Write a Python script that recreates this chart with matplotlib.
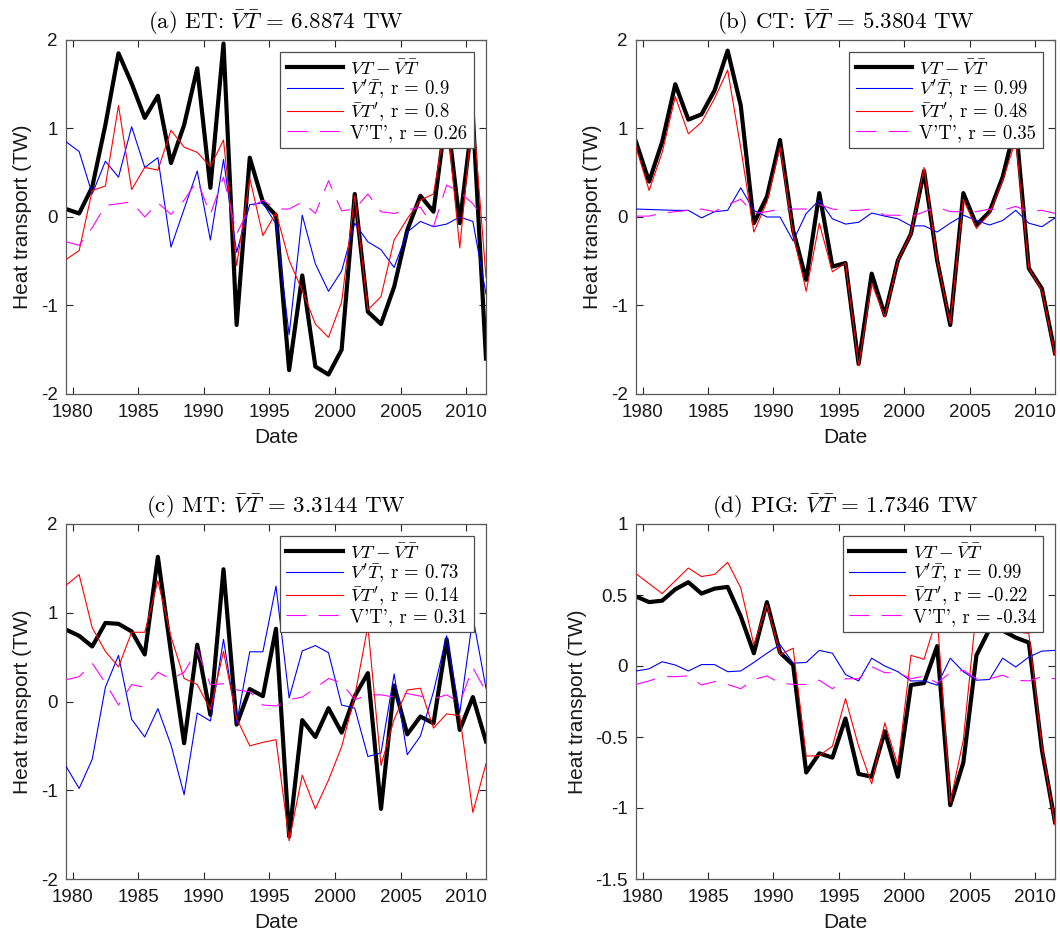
import matplotlib
matplotlib.use("Agg")
import matplotlib.pyplot as plt
from matplotlib.font_manager import FontProperties
import numpy as np

plt.rcParams["mathtext.fontset"] = "cm"
plt.rcParams["axes.unicode_minus"] = False
plt.rcParams["font.family"] = ["Liberation Sans", "DejaVu Sans"]

# Annual values, centred on mid-year (1979.5 ... 2011.5)
years = np.arange(1979.5, 2012.0, 1.0)

# (a) ET
et_total = [0.09, 0.04, 0.34, 1.04, 1.85, 1.51, 1.12, 1.37, 0.61, 1.04, 1.68, 0.33, 1.96,
            -1.22, 0.67, 0.17, 0.02, -1.73, -0.66, -1.69, -1.78, -1.50, 0.26, -1.07, -1.21,
            -0.79, -0.15, 0.24, 0.06, 1.20, -0.07, 1.15, -1.60]
et_vpt = [0.85, 0.74, 0.26, 0.63, 0.45, 1.02, 0.56, 0.67, -0.34, 0.09, 0.52, -0.26, 0.65,
          -0.40, 0.14, 0.16, -0.08, -1.33, 0.02, -0.53, -0.84, -0.61, -0.07, -0.28, -0.37,
          -0.57, -0.17, -0.05, -0.11, -0.08, 0.00, -0.05, -0.87]
et_vtp = [-0.48, -0.38, 0.30, 0.35, 1.26, 0.31, 0.56, 0.53, 0.98, 0.79, 0.73, 0.57, 0.87,
          -0.55, 0.44, -0.21, 0.05, -0.49, -0.83, -1.21, -1.36, -0.96, 0.24, -1.05, -0.90,
          -0.26, -0.02, 0.19, 0.26, 1.15, -0.35, 1.20, -0.68]
et_vptp = [-0.28, -0.32, -0.12, 0.13, 0.15, 0.17, 0.00, 0.16, 0.03, 0.19, 0.41, 0.03, 0.45,
           -0.19, 0.11, 0.19, 0.09, 0.09, 0.17, 0.04, 0.41, 0.07, 0.09, 0.26, 0.06,
           0.04, 0.08, 0.11, -0.11, 0.36, 0.28, 0.15, -0.04]

# (b) CT
ct_total = [0.85, 0.40, 0.85, 1.50, 1.10, 1.16, 1.43, 1.88, 1.26, -0.07, 0.23, 0.87, -0.15,
            -0.71, 0.27, -0.56, -0.52, -1.66, -0.64, -1.11, -0.49, -0.19, 0.52, -0.49, -1.22,
            0.27, -0.09, 0.06, 0.45, 1.05, -0.58, -0.81, -1.54]
ct_vpt = [0.09, 0.085, 0.08, 0.075, 0.075, -0.01, 0.06, 0.075, 0.33, 0.075, 0.00, 0.00, -0.27,
          0.04, 0.19, -0.02, -0.08, -0.06, 0.045, 0.01, -0.02, -0.10, -0.10, -0.17, -0.07,
          0.02, -0.04, -0.09, -0.04, 0.075, -0.07, -0.11, -0.01]
ct_vtp = [0.79, 0.30, 0.73, 1.36, 0.94, 1.07, 1.34, 1.66, 0.78, -0.17, 0.17, 0.79, -0.19,
          -0.84, -0.07, -0.62, -0.52, -1.68, -0.75, -1.13, -0.49, -0.19, 0.56, -0.49, -1.20,
          0.20, -0.13, 0.04, 0.41, 0.87, -0.58, -0.83, -1.56]
ct_vptp = [0.01, 0.01, 0.045, 0.06, 0.075, 0.09, 0.06, 0.14, 0.20, 0.04, 0.06, 0.09, 0.09,
           0.09, 0.14, 0.09, 0.075, 0.075, 0.09, 0.02, 0.02, 0.00, 0.06, 0.11, 0.06,
           0.06, 0.06, 0.09, 0.075, 0.12, 0.06, 0.075, 0.04]

# (c) MT
mt_total = [0.81, 0.74, 0.62, 0.885, 0.875, 0.79, 0.53, 1.63, 0.55, -0.47, 0.64, -0.15, 1.49,
            -0.26, 0.14, 0.06, 0.82, -1.52, -0.21, -0.40, -0.075, -0.35, 0.06, 0.32, -1.21,
            0.18, -0.37, -0.17, -0.245, 0.70, -0.32, 0.05, -0.45]
mt_vpt = [-0.73, -0.98, -0.65, 0.16, 0.52, -0.20, -0.40, -0.08, -0.49, -1.05, -0.13, -0.22, 0.70,
          -0.245, 0.56, 0.56, 1.30, 0.04, 0.57, 0.63, 0.55, -0.04, -0.075, -0.62, -0.58,
          0.31, -0.60, -0.39, 0.11, 0.74, -0.13, 0.95, 0.15]
mt_vtp = [1.31, 1.43, 0.83, 0.565, 0.39, 0.78, 0.78, 1.36, 0.73, 0.26, 0.19, -0.09, 0.565,
          -0.19, -0.50, -0.46, -0.43, -1.57, -0.83, -1.21, -0.885, -0.51, 0.06, 0.85, -0.72,
          -0.20, 0.13, 0.15, -0.30, -0.14, -0.16, -1.25, -0.70]
mt_vptp = [0.245, 0.28, 0.43, 0.21, -0.04, 0.19, 0.16, 0.33, 0.25, 0.33, 0.58, 0.19, 0.20,
           0.13, 0.11, -0.04, -0.05, 0.02, 0.05, 0.15, 0.26, 0.21, 0.02, 0.075, 0.075,
           0.05, 0.09, 0.06, 0.03, 0.075, -0.01, 0.38, 0.11]

# (d) PIG
pig_total = [0.49, 0.45, 0.46, 0.54, 0.59, 0.51, 0.545, 0.557, 0.35, 0.09, 0.45, 0.094, 0.007,
             -0.75, -0.615, -0.645, -0.37, -0.76, -0.78, -0.46, -0.78, -0.134, -0.12, 0.14, -0.98,
             -0.68, 0.075, 0.26, 0.25, 0.20, 0.165, -0.59, -1.10]
pig_vpt = [-0.035, -0.02, 0.03, 0.007, -0.035, 0.01, 0.01, -0.04, -0.035, 0.025, 0.09, 0.15, 0.02,
           0.025, 0.11, 0.09, -0.06, -0.105, 0.055, 0.00, -0.04, -0.105, -0.105, -0.135, 0.055,
           -0.04, -0.10, -0.095, 0.055, -0.007, 0.063, 0.105, 0.11]
pig_vtp = [0.65, 0.58, 0.51, 0.60, 0.69, 0.63, 0.645, 0.73, 0.55, 0.15, 0.43, 0.08, 0.125,
           -0.635, -0.63, -0.565, -0.23, -0.565, -0.83, -0.40, -0.70, 0.075, 0.047, 0.35, -0.96,
           -0.52, 0.40, 0.30, 0.27, 0.24, 0.23, -0.565, -1.12]
pig_vptp = [-0.13, -0.105, -0.075, -0.075, -0.07, -0.134, -0.11, -0.13, -0.16, -0.095, -0.07, -0.12, -0.13,
            -0.13, -0.10, -0.16, -0.09, -0.09, -0.005, -0.047, -0.047, -0.09, -0.07, -0.12, -0.047,
            -0.03, -0.09, -0.09, -0.065, -0.10, -0.105, -0.075, -0.09]

titles = [r"(a) ET: $\bar{V}\bar{T}$ = 6.8874 TW",
          r"(b) CT: $\bar{V}\bar{T}$ = 5.3804 TW",
          r"(c) MT: $\bar{V}\bar{T}$ = 3.3144 TW",
          r"(d) PIG: $\bar{V}\bar{T}$ = 1.7346 TW"]
r_vpt = ["0.9", "0.99", "0.73", "0.99"]
r_vtp = ["0.8", "0.48", "0.14", "-0.22"]
r_vptp = ["0.26", "0.35", "0.31", "-0.34"]

series = [(et_total, et_vpt, et_vtp, et_vptp),
          (ct_total, ct_vpt, ct_vtp, ct_vptp),
          (mt_total, mt_vpt, mt_vtp, mt_vptp),
          (pig_total, pig_vpt, pig_vtp, pig_vptp)]

x_ticks = [1980, 1985, 1990, 1995, 2000, 2005, 2010]
y_ticks_std = [-2, -1, 0, 1, 2]
y_ticks_pig = [-1.5, -1, -0.5, 0, 0.5, 1]
y_labels_std = ["-2", "-1", "0", "1", "2"]
y_labels_pig = ["-1.5", "-1", "-0.5", "0", "0.5", "1"]

W, H = 1060, 941
fig = plt.figure(figsize=(W / 100, H / 100), dpi=100)

boxes = [(66, 40, 486, 394), (636, 40, 1055, 394),
         (66, 524, 486, 879), (636, 524, 1055, 879)]

cm_font = FontProperties(family="cmr10", size=16.5)
leg_font = FontProperties(family="cmr10", size=13.5)
axcol = "0.15"

for k, (x0, y0, x1, y1) in enumerate(boxes):
    ax = fig.add_axes([x0 / W, 1 - y1 / H, (x1 - x0) / W, (y1 - y0) / H])
    tot, vpt, vtp, vptp = series[k]
    ax.plot(years, tot, color="black", lw=3.0,
            label=r"$VT\:-\:\bar{V}\bar{T}$", zorder=2)
    ax.plot(years, vpt, color="blue", lw=0.8,
            label=r"$V'\bar{T}$, r = " + r_vpt[k], zorder=3)
    ax.plot(years, vtp, color="red", lw=0.8,
            label=r"$\bar{V}T'$, r = " + r_vtp[k], zorder=3)
    ax.plot(years, vptp, color="magenta", lw=0.8, linestyle=(0, (18, 11)),
            label="V'T', r = " + r_vptp[k], zorder=3)

    ax.set_xlim(1979.5, 2011.5)
    ax.set_xticks(x_ticks)
    if k == 3:
        ax.set_ylim(-1.5, 1)
        ax.set_yticks(y_ticks_pig)
        ax.set_yticklabels(y_labels_pig)
    else:
        ax.set_ylim(-2, 2)
        ax.set_yticks(y_ticks_std)
        ax.set_yticklabels(y_labels_std)

    ax.tick_params(direction="in", length=5, width=0.8, colors=axcol,
                   top=True, right=True, labelsize=13.5)
    ax.tick_params(axis="x", pad=7)
    ax.tick_params(axis="y", pad=6)
    for tl in ax.get_xticklabels() + ax.get_yticklabels():
        tl.set_color("0.1")
    for sp in ax.spines.values():
        sp.set_color("0.35")
        sp.set_linewidth(0.9)

    ax.set_xlabel("Date", fontsize=15, color="0.1", labelpad=5)
    ax.set_ylabel("Heat transport (TW)", fontsize=15, color="0.1", labelpad=6)
    ax.set_title(titles[k], fontproperties=cm_font, pad=8)

    leg = ax.legend(loc="upper right", prop=leg_font, fancybox=False, framealpha=1,
                    edgecolor="0.3", handlelength=3.0, handletextpad=0.4,
                    labelspacing=0.0, borderpad=0.35, borderaxespad=0.65)
    leg.get_frame().set_linewidth(0.9)
    leg.set_zorder(5)

fig.savefig("out.png", dpi=100)
